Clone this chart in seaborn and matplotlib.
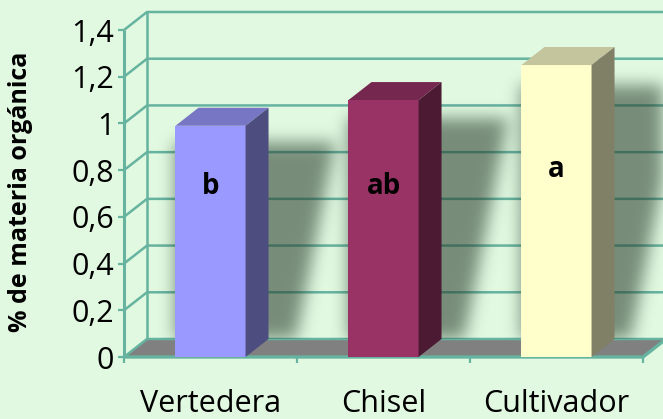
import numpy as np
import matplotlib
matplotlib.use("Agg")
import matplotlib.pyplot as plt
from matplotlib import font_manager
from matplotlib.colors import to_rgb
from matplotlib.lines import Line2D
from matplotlib.patches import Polygon
from matplotlib.path import Path
from matplotlib.transforms import IdentityTransform
import seaborn as sns

categories = ["Vertedera", "Chisel", "Cultivador"]
materia_organica = [0.99, 1.10, 1.25]
letras = ["b", "ab", "a"]
y_ticks = [0, 0.2, 0.4, 0.6, 0.8, 1.0, 1.2, 1.4]
y_tick_labels = ["0", "0,2", "0,4", "0,6", "0,8", "1", "1,2", "1,4"]

bar_colors = ["#9999FF", "#993366", "#FFFFCC"]
bg_color = "#E0F9E0"
grid_color = "#66B3A0"
floor_color = "#808080"
shadow_rgb = (40 / 255, 60 / 255, 45 / 255)

W, H = 663, 419
DX, DY = 23, 18  # depth of the fake 3d box, in pixels

sns.set_theme(style="white")
plt.rcParams["font.family"] = ["Open Sans", "DejaVu Sans"]

# narrow bold font for the y label and the letters if we have one
installed = {f.name for f in font_manager.fontManager.ttflist}
if "Liberation Sans Narrow" in installed:
    narrow, label_size, letter_size = "Liberation Sans Narrow", 22, 24
else:
    narrow, label_size, letter_size = "Open Sans", 18, 20

fig = plt.figure(figsize=(W / 100, H / 100), dpi=100, facecolor=bg_color)
rect = [124 / W, (H - 357) / H, (643 - 124) / W, (357 - 30) / H]
back = fig.add_axes(rect, zorder=0)
front = fig.add_axes(rect, zorder=2)

sns.barplot(x=categories, y=materia_organica, hue=categories, palette=bar_colors,
            saturation=1, width=0.405, legend=False, edgecolor="none", linewidth=0,
            ax=front, zorder=3)
bars = list(front.patches)

for a in (back, front):
    a.set_xlim(-0.5, 2.5)
    a.set_ylim(0, 1.4)
    a.set_autoscale_on(False)
    a.patch.set_visible(False)
    for s in a.spines.values():
        s.set_visible(False)
    a.set_xlabel("")
    a.set_ylabel("")
back.set_xticks([])
back.set_yticks([])

ident = IdentityTransform()


def px(x, y, depth=0):
    X, Y = front.transData.transform((x, y))
    return X + depth * DX, Y + depth * DY


def line(ax, pts, lw, z):
    xs, ys = zip(*pts)
    ax.add_line(Line2D(xs, ys, color=grid_color, lw=lw, transform=ident,
                       clip_on=False, zorder=z, solid_capstyle="butt"))


def poly(ax, pts, color, z):
    ax.add_patch(Polygon(pts, closed=True, facecolor=color, edgecolor="none",
                         transform=ident, clip_on=False, zorder=z))


x0, x1 = -0.5, 2.5

# floor + walls
poly(back, [px(x0, 0), px(x1, 0), px(x1, 0, 1), px(x0, 0, 1)], floor_color, 1)
for t in y_ticks:
    line(back, [px(x0, t), px(x0, t, 1), px(x1, t, 1)], 1.8, 2)
line(back, [px(x0, 0, 1), px(x0, 1.4, 1)], 1.8, 2)

# front edges
line(front, [px(x0, 0), px(x1, 0), px(x1, 0, 1)], 2.4, 2)
line(front, [px(x0, 0), px(x0, 1.4)], 2.2, 2)

# soft shadows thrown on the back wall
cols, rows = np.meshgrid(np.arange(W) + 0.5, H - np.arange(H) - 0.5)
grid_pts = np.column_stack([cols.ravel(), rows.ravel()])
floor_back = px(x0, 0, 1)[1]
mask = np.zeros(H * W)
for bar in bars:
    xa, xb, h = bar.get_x(), bar.get_x() + bar.get_width(), bar.get_height()
    left, top = px(xa, 0.93 * h)
    right = px(xb, h)[0] + 90
    shift = 0.2 * (top - floor_back)
    shape = Path([(left, floor_back), (left, top), (right, top), (right - shift, floor_back)])
    mask = np.maximum(mask, shape.contains_points(grid_pts))
mask = mask.reshape(H, W)
k = np.exp(-0.5 * (np.arange(-24, 25) / 8.0) ** 2)
k /= k.sum()
mask = np.apply_along_axis(lambda r: np.convolve(r, k, mode="same"), 1, mask)
mask = np.apply_along_axis(lambda c: np.convolve(c, k, mode="same"), 0, mask)
mask[rows < floor_back] = 0
rgba = np.zeros((H, W, 4))
rgba[..., :3] = shadow_rgb
rgba[..., 3] = 0.57 * mask
fig.figimage(rgba, xo=0, yo=0, origin="upper", zorder=1)

# top and side faces of the bars
for bar, c in zip(bars, bar_colors):
    xa, xb, h = bar.get_x(), bar.get_x() + bar.get_width(), bar.get_height()
    rgb = np.array(to_rgb(c))
    poly(front, [px(xa, h), px(xb, h), px(xb, h, 1), px(xa, h, 1)], rgb * 0.77, 3)
    poly(front, [px(xb, 0), px(xb, h), px(xb, h, 1), px(xb, 0, 1)], rgb * 0.5, 3)

# significance letters
for i, (v, l) in enumerate(zip(materia_organica, letras)):
    front.text(i, max(0.70, v - 0.48), l, ha="center", va="baseline",
               fontsize=letter_size, fontweight="bold", family=[narrow, "DejaVu Sans"],
               color="black", zorder=5)

front.set_yticks(y_ticks, y_tick_labels)
front.tick_params(axis="y", left=True, length=4, width=1.6, color=grid_color, pad=3,
                  labelsize=22, labelcolor="black")
front.set_xticks([-0.5, 0.5, 1.5, 2.5], [""] * 4)
front.set_xticks([0, 1, 2], categories, minor=True)
front.tick_params(axis="x", which="major", bottom=True, length=4, width=1.6, color=grid_color)
front.tick_params(axis="x", which="minor", bottom=True, length=0, pad=23, labelsize=22,
                  labelcolor="black")

fig.text(21 / W, 1 - 192 / H, "% de materia orgánica", rotation=90, ha="center", va="center",
         fontsize=label_size, fontweight="bold", family=[narrow, "DejaVu Sans"], color="black")

fig.savefig("out.png", dpi=100, facecolor=bg_color)
